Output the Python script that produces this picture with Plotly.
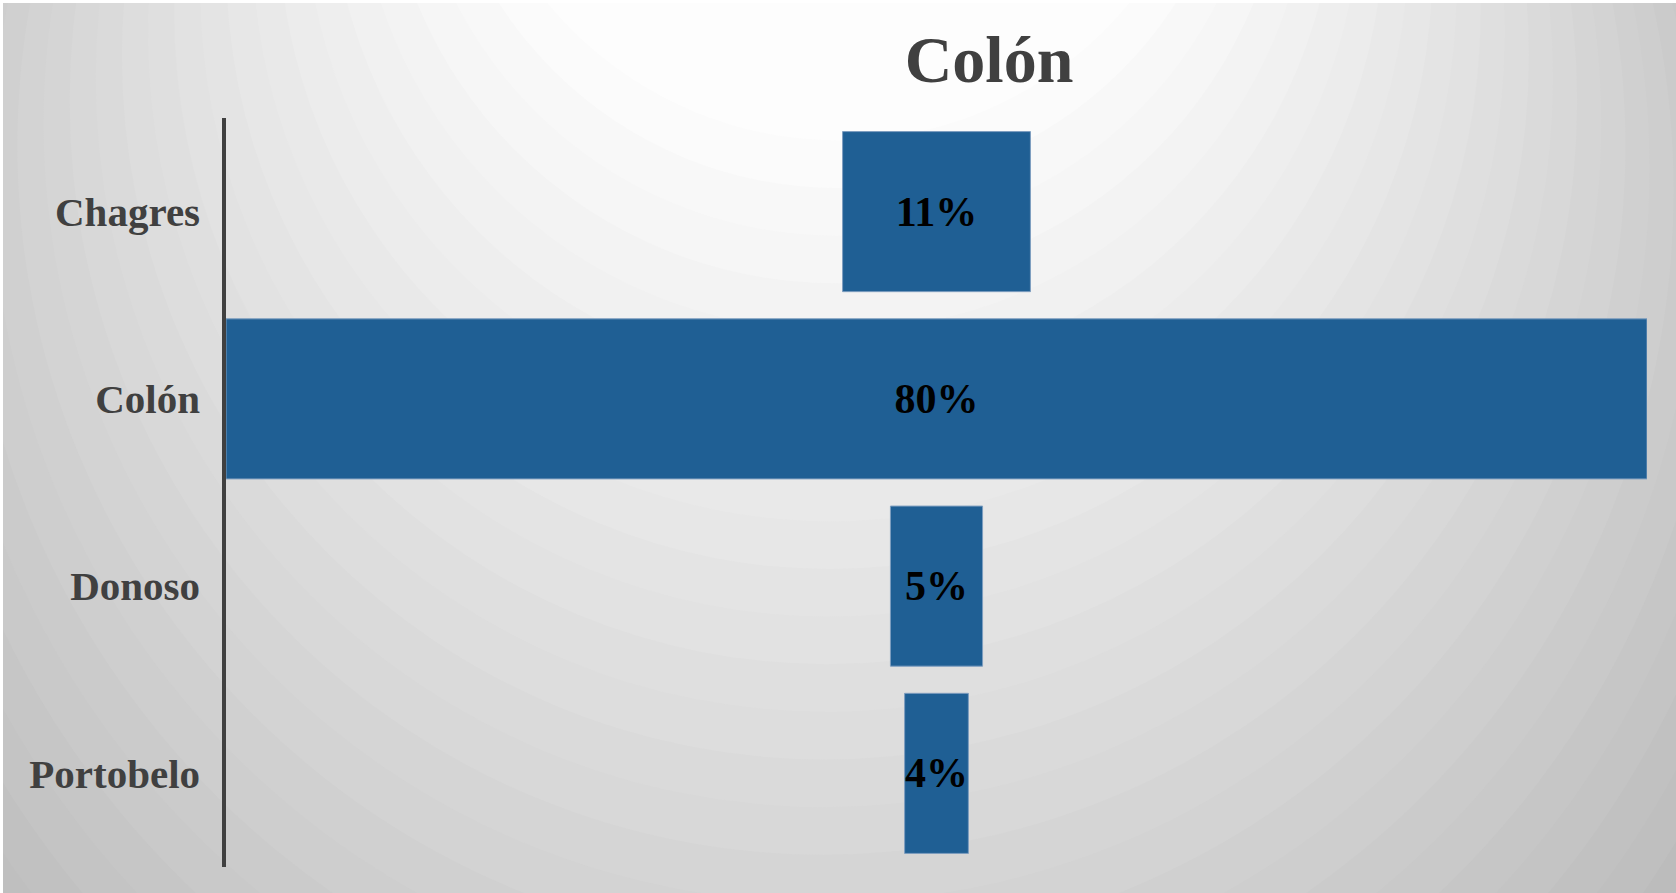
import numpy as np
import plotly.graph_objects as go

# ---- data ----
districts = ["Chagres", "Colón", "Donoso", "Portobelo"]
shares = [0.106, 0.802, 0.052, 0.036]
chart_title = "Colón"

# ---- geometry ----
W, H = 1676, 893
L, R_, T, B = 226, 29, 118, 26
pw, ph = W - L - R_, H - T - B


def px2x(px):
    return (px - L) / pw


def py2y(py):
    return (H - B - py) / ph


# ---- background radial (focal) gradient built from rings ----
shapes = []
T0 = 0.36
for t in np.arange(1.7, T0 - 1e-9, -0.025):
    cx = 839 - 40 * (t - T0)
    cy = -250 + 900 * (t - T0)
    r = 1005 * t
    g = int(round(np.clip(255 - 100 * (t - T0), 150, 255)))
    col = f"rgb({g},{g},{g})"
    shapes.append(dict(type="circle", xref="paper", yref="paper", layer="below",
                       x0=px2x(cx - r), x1=px2x(cx + r),
                       y0=py2y(cy + r), y1=py2y(cy - r),
                       fillcolor=col, line=dict(width=0)))
# thin white frame at top/left
shapes.append(dict(type="rect", xref="paper", yref="paper", layer="below",
                   x0=px2x(0), x1=px2x(W), y0=py2y(3), y1=py2y(-5),
                   fillcolor="white", line=dict(width=0)))
shapes.append(dict(type="rect", xref="paper", yref="paper", layer="below",
                   x0=px2x(-5), x1=px2x(3), y0=py2y(H + 5), y1=py2y(-5),
                   fillcolor="white", line=dict(width=0)))

fig = go.Figure(go.Funnel(
    y=districts, x=shares,
    texttemplate="%{value:.0%}",
    textposition="inside", insidetextanchor="middle", textangle=0,
    constraintext="none",
    textfont=dict(family="Liberation Serif", size=42, color="black", weight="bold"),
    marker=dict(color="#1F5F94", line=dict(color="#7d9dbf", width=1)),
    connector=dict(visible=False),
    hoverinfo="skip",
))

half = max(shares) / 2
fig.update_layout(
    width=W, height=H,
    margin=dict(l=L, r=R_, t=T, b=B, pad=0),
    paper_bgcolor="#d4d4d4",
    plot_bgcolor="rgba(0,0,0,0)",
    funnelgap=0.145,
    showlegend=False,
    shapes=shapes,
    title=dict(text=chart_title, xref="container", yref="container",
               x=989 / W, xanchor="center", y=1 - 59 / H, yanchor="middle",
               font=dict(family="Liberation Serif", size=66, color="#404040", weight="bold")),
    xaxis=dict(visible=False, range=[-half, half], fixedrange=True),
    yaxis=dict(autorange="reversed", showline=True, linewidth=3.5, linecolor="#404040",
               showgrid=False, zeroline=False, ticks="", ticklabelstandoff=14,
               fixedrange=True,
               tickfont=dict(family="Liberation Serif", size=41, color="#404040", weight="bold")),
)

fig.write_html("out.html", config={"displayModeBar": False},
               post_script="document.body.style.margin='0';document.body.style.overflow='hidden';")
